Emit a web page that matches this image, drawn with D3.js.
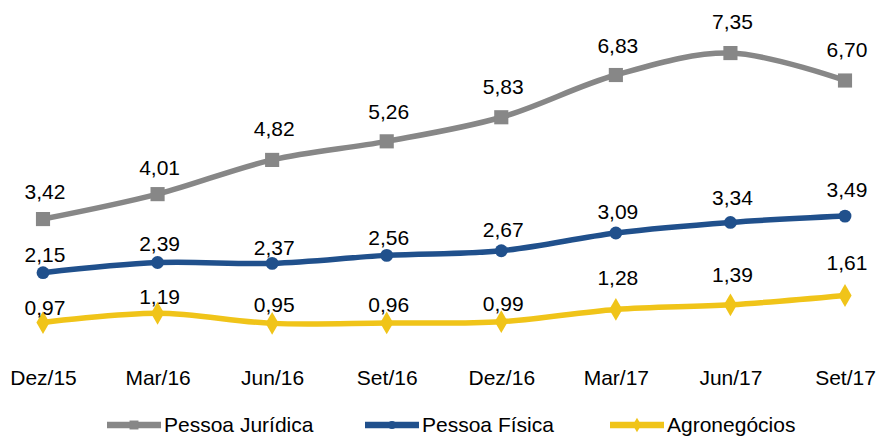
<!DOCTYPE html>
<html>
<head>
<meta charset="utf-8">
<script src="https://cdn.jsdelivr.net/npm/d3@7"></script>
<style>
  body { margin: 0; background: #fff; }
  text { font-family: "Liberation Sans", Arial, sans-serif; fill: #000; }
</style>
</head>
<body>
<script>
const categories = ['Dez/15', 'Mar/16', 'Jun/16', 'Set/16', 'Dez/16', 'Mar/17', 'Jun/17', 'Set/17'];
const pessoaJuridica = [3.42, 4.01, 4.82, 5.26, 5.83, 6.83, 7.35, 6.70];
const pessoaFisica = [2.15, 2.39, 2.37, 2.56, 2.67, 3.09, 3.34, 3.49];
const agronegocios = [0.97, 1.19, 0.95, 0.96, 0.99, 1.28, 1.39, 1.61];

// how far each value label sits above its point (px)
const liftPJ = [27, 26, 31, 29, 30, 29, 31, 31];
const liftPF = [18, 19, 15, 17, 21, 21, 24, 26];
const liftAg = [15, 16, 18, 18, 18, 31, 30, 32];

const width = 881, height = 436;

const series = [
  { name: 'Pessoa Jurídica', values: pessoaJuridica, lift: liftPJ, color: '#878787', symbol: d3.symbolSquare, size: 200 },
  { name: 'Pessoa Física', values: pessoaFisica, lift: liftPF, color: '#20508c', symbol: d3.symbolCircle, size: 130 },
  { name: 'Agronegócios', values: agronegocios, lift: liftAg, color: '#f0c419', symbol: d3.symbolDiamond, size: 150 }
];

const svg = d3.select(document.body).append('svg')
  .attr('width', width)
  .attr('height', height);

const x = d3.scalePoint()
  .domain(categories)
  .range([43, 845]);

const y = d3.scaleLinear()
  .domain([0, 8])
  .range([363.5, 25.6]);

const line = d3.line()
  .x((d, i) => x(categories[i]))
  .y(d => y(d))
  .curve(d3.curveCatmullRom.alpha(0.5));

// x axis labels only, no line or ticks
const xAxis = svg.append('g')
  .attr('transform', 'translate(0,370)')
  .call(d3.axisBottom(x).tickSize(0).tickPadding(0));
xAxis.select('.domain').remove();
xAxis.selectAll('text')
  .attr('dy', '0.71em')
  .style('font-size', '21px')
  .style('font-family', '"Liberation Sans", Arial, sans-serif')
  .attr('fill', '#000');

const groups = svg.selectAll('.series').data(series)
  .enter().append('g')
  .classed('series', true);

groups.append('path')
  .attr('d', d => line(d.values))
  .attr('fill', 'none')
  .attr('stroke', d => d.color)
  .attr('stroke-width', 5.5)
  .attr('stroke-linejoin', 'round');

groups.each(function(s) {
  const g = d3.select(this);
  g.selectAll('.marker').data(s.values)
    .enter().append('path')
    .classed('marker', true)
    .attr('transform', (d, i) => `translate(${x(categories[i])},${y(d)})`)
    .attr('d', d3.symbol().type(s.symbol).size(s.size))
    .attr('fill', s.color);

  g.selectAll('.label').data(s.values)
    .enter().append('text')
    .classed('label', true)
    .attr('x', (d, i) => x(categories[i]) + 2)
    .attr('y', (d, i) => y(d) - s.lift[i] + 7)
    .attr('text-anchor', 'middle')
    .style('font-size', '21px')
    .text(d => d3.format('.2f')(d).replace('.', ','));
});

// legend
const legendX = [107, 365, 610];
const legend = svg.selectAll('.legend').data(series)
  .enter().append('g')
  .classed('legend', true)
  .attr('transform', (d, i) => `translate(${legendX[i]},425)`);

legend.append('line')
  .attr('x1', 0).attr('x2', 54)
  .attr('stroke', d => d.color)
  .attr('stroke-width', 6.5);

legend.append('path')
  .attr('transform', 'translate(27,0)')
  .attr('d', d => d3.symbol().type(d.symbol).size(d.size * 0.4)())
  .attr('fill', d => d.color);

legend.append('text')
  .attr('x', 57)
  .attr('y', 7)
  .style('font-size', '21px')
  .text(d => d.name);
</script>
</body>
</html>
